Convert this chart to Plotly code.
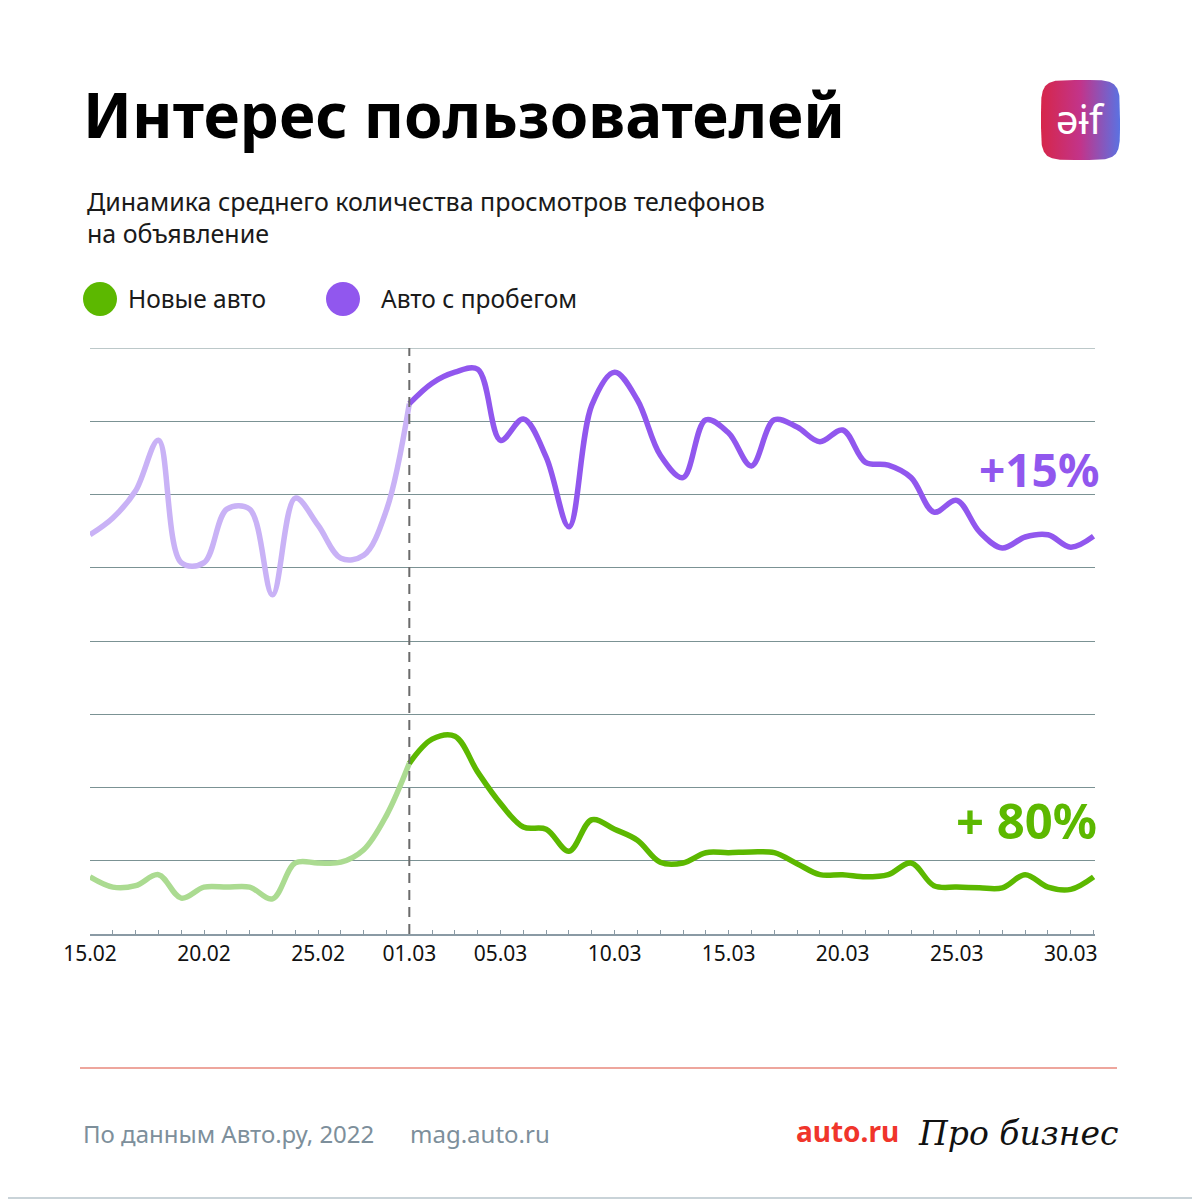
import numpy as np
import pandas as pd
import plotly.graph_objects as go

# days 15.02 - 31.03.2022
dates = pd.date_range("2022-02-15", "2022-03-31", freq="D")
feb_dates = dates[:15]   # 15.02 .. 01.03
mar_dates = dates[14:]   # 01.03 .. 31.03

# average phone views per ad (chart grid units)
used_feb = [5.45, 5.68, 6.05, 6.74, 5.07, 5.07, 5.80, 5.80, 4.63, 5.95, 5.58, 5.13, 5.17, 5.79, 7.24]
used_mar = [7.24, 7.52, 7.67, 7.71, 6.74, 7.03, 6.51, 5.56, 7.22, 7.67, 7.29, 6.54, 6.23, 7.02, 6.84,
            6.39, 7.02, 6.92, 6.72, 6.88, 6.44, 6.40, 6.23, 5.76, 5.92, 5.49, 5.27, 5.42, 5.45, 5.28, 5.43]
new_feb = [0.78, 0.64, 0.66, 0.81, 0.49, 0.64, 0.64, 0.64, 0.48, 0.97, 0.97, 0.98, 1.15, 1.62, 2.33]
new_mar = [2.33, 2.66, 2.70, 2.21, 1.78, 1.46, 1.43, 1.13, 1.56, 1.43, 1.28, 0.98, 0.97, 1.11, 1.11,
           1.12, 1.11, 0.96, 0.81, 0.81, 0.78, 0.81, 0.97, 0.66, 0.64, 0.63, 0.63, 0.81, 0.64, 0.61, 0.78]

tick_dates = ["2022-02-15", "2022-02-20", "2022-02-25", "2022-03-01", "2022-03-05",
              "2022-03-10", "2022-03-15", "2022-03-20", "2022-03-25", "2022-03-30"]
tick_labels = ["15.02", "20.02", "25.02", "01.03", "05.03", "10.03", "15.03", "20.03", "25.03", "30.03"]

used_change = "+15%"
new_change = "+ 80%"

PURPLE = "#9157ee"
PURPLE_LIGHT = "#c9b2f6"
GREEN = "#5cb800"
GREEN_LIGHT = "#abdb91"
GRID = "#7b9294"
FONT = "Noto Sans"

# the page body adds 8px around the figure, so layout positions are
# given in window pixels and moved back by that offset
OFF = 8


def px(x):
    return (x - OFF) / 1200


def py(y):
    return 1 - (y - OFF) / 1200


fig = go.Figure()

line_kw = dict(mode="lines", line_shape="spline", hoverinfo="skip", showlegend=False)
fig.add_trace(go.Scatter(x=feb_dates, y=used_feb, line=dict(color=PURPLE_LIGHT, width=5.5, smoothing=1), **line_kw))
fig.add_trace(go.Scatter(x=mar_dates, y=used_mar, line=dict(color=PURPLE, width=5.5, smoothing=1), **line_kw))
fig.add_trace(go.Scatter(x=feb_dates, y=new_feb, line=dict(color=GREEN_LIGHT, width=5.5, smoothing=1), **line_kw))
fig.add_trace(go.Scatter(x=mar_dates, y=new_mar, line=dict(color=GREEN, width=5.5, smoothing=1), **line_kw))

# logo: squircle with gradient
t = np.linspace(0, 2 * np.pi, 200)
n = 5
sx = np.sign(np.cos(t)) * np.abs(np.cos(t)) ** (2 / n)
sy = np.sign(np.sin(t)) * np.abs(np.sin(t)) ** (2 / n)
fig.add_trace(go.Scatter(
    x=sx, y=sy, xaxis="x2", yaxis="y2", mode="lines", fill="toself",
    line=dict(width=0),
    fillgradient=dict(type="horizontal",
                      colorscale=[[0, "#d6264a"], [0.5, "#c2348a"], [1, "#5a72e2"]]),
    hoverinfo="skip", showlegend=False,
))

fig.update_layout(
    width=1200, height=1200,
    margin=dict(l=0, r=0, t=0, b=0, pad=0, autoexpand=False),
    paper_bgcolor="white", plot_bgcolor="white",
    font=dict(family=FONT, color="#111111"),
    xaxis=dict(
        type="date",
        domain=[px(90), px(1095)],
        range=["2022-02-15", "2022-03-31 01:30"],
        tickmode="array", tickvals=tick_dates, ticktext=tick_labels,
        ticks="inside", ticklen=4, tickcolor="#8a9aa4", tickwidth=1,
        minor=dict(tickmode="linear", tick0="2022-02-15", dtick=86400000,
                   ticks="inside", ticklen=4, tickcolor="#8a9aa4", tickwidth=1),
        showgrid=False, zeroline=False,
        showline=True, linecolor="#8a9aa4", linewidth=1.5,
        tickfont=dict(size=21, color="#111111", family=FONT),
        automargin=False, fixedrange=True,
    ),
    yaxis=dict(
        domain=[py(934), py(348)],
        range=[0, 8], dtick=1,
        showgrid=True, gridcolor=GRID, gridwidth=1,
        zeroline=False, showline=False, showticklabels=False, ticks="",
        automargin=False, fixedrange=True,
    ),
    xaxis2=dict(domain=[px(1041), px(1120)], range=[-1, 1], visible=False,
                anchor="y2", automargin=False, fixedrange=True),
    yaxis2=dict(domain=[py(160), py(80)], range=[-1, 1], visible=False,
                anchor="x2", automargin=False, fixedrange=True),
)

shapes = [
    # top grid line (range edge)
    dict(type="line", xref="paper", yref="y", x0=px(90), x1=px(1095), y0=8, y1=8,
         line=dict(color=GRID, width=1), layer="below"),
    # split line at 01.03
    dict(type="line", xref="x", yref="y", x0="2022-03-01", x1="2022-03-01", y0=0, y1=8,
         line=dict(color="#6b6b6b", width=2, dash="10px,7px")),
    # legend dots
    dict(type="circle", xref="paper", yref="paper", x0=px(83), x1=px(117), y0=py(316), y1=py(282),
         fillcolor=GREEN, line=dict(width=0)),
    dict(type="circle", xref="paper", yref="paper", x0=px(326), x1=px(360), y0=py(316), y1=py(282),
         fillcolor=PURPLE, line=dict(width=0)),
    # footer separator
    dict(type="line", xref="paper", yref="paper", x0=px(80), x1=px(1117), y0=py(1068), y1=py(1068),
         line=dict(color="#de4f3c", width=1.2)),
    # frame
    dict(type="rect", xref="paper", yref="paper", x0=px(1), x1=px(1198), y0=py(1198), y1=py(1),
         line=dict(color="#c9d3d8", width=2)),
]
fig.update_layout(shapes=shapes)

ann = [
    dict(text="<b>Интерес пользователей</b>", x=px(81), y=py(114), size=62, color="#000000"),
    dict(text="Динамика среднего количества просмотров телефонов", x=px(85), y=py(201), size=25, color="#1a1a1a"),
    dict(text="на объявление", x=px(85), y=py(233), size=25, color="#1a1a1a"),
    dict(text="Новые авто", x=px(126), y=py(299), size=24.5, color="#1a1a1a"),
    dict(text="Авто с пробегом", x=px(379), y=py(299), size=24.5, color="#1a1a1a"),
    dict(text="По данным Авто.ру, 2022", x=px(81), y=py(1133), size=24, color="#7d8f9b"),
    dict(text="mag.auto.ru", x=px(408), y=py(1133), size=24, color="#7d8f9b"),
    dict(text="<b>auto.ru</b>", x=px(794), y=py(1131), size=28, color="#f0352b"),
    dict(text="<i>Про бизнес</i>", x=px(916), y=py(1133), size=33, color="#111111", family="DejaVu Serif"),
]
annotations = []
for a in ann:
    annotations.append(dict(
        text=a["text"], x=a["x"], y=a["y"], xref="paper", yref="paper",
        xanchor="left", yanchor="middle", showarrow=False,
        font=dict(size=a["size"], color=a["color"], family=a.get("family", FONT)),
    ))

annotations += [
    dict(text=f"<b>{used_change}</b>", x=px(1101), y=py(469), xref="paper", yref="paper",
         xanchor="right", yanchor="middle", showarrow=False,
         font=dict(size=46, color=PURPLE, family=FONT)),
    dict(text=f"<b>{new_change}</b>", x=px(1099), y=py(820), xref="paper", yref="paper",
         xanchor="right", yanchor="middle", showarrow=False,
         font=dict(size=49, color=GREEN, family=FONT)),
    dict(text="əɨf", x=px(1080), y=py(118), xref="paper", yref="paper",
         xanchor="center", yanchor="middle", showarrow=False,
         font=dict(size=40, color="white", family=FONT)),
]
fig.update_layout(annotations=annotations)

fig.write_html("out.html")
